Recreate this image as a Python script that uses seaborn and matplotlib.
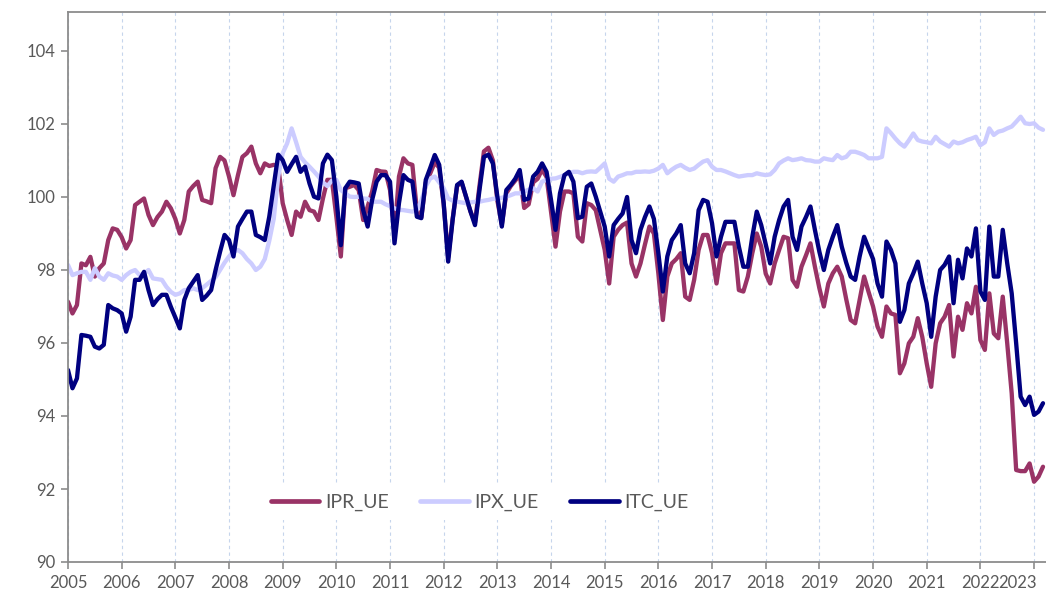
import numpy as np
import pandas as pd
import matplotlib
matplotlib.use("Agg")
import matplotlib.pyplot as plt
import matplotlib.transforms as mtransforms
import seaborn as sns

# ---------------- data (monthly, Jan 2005 - Mar 2023) ----------------
start_year = 2005
series_names = ["IPR_UE", "IPX_UE", "ITC_UE"]

ipr_ue = [
    97.13, 96.81, 97.04, 98.18, 98.13, 98.36, 97.82, 98.05, 98.18, 98.82, 99.14, 99.10,   # 2005
    98.90, 98.59, 98.82, 99.78, 99.87, 99.96, 99.51, 99.23, 99.45, 99.60, 99.87, 99.69,   # 2006
    99.40, 99.00, 99.37, 100.15, 100.30, 100.42, 99.92, 99.88, 99.83, 100.79, 101.10, 101.00,  # 2007
    100.56, 100.05, 100.60, 101.10, 101.20, 101.38, 100.92, 100.65, 100.92, 100.85, 100.88, 100.85,  # 2008
    99.83, 99.37, 98.96, 99.60, 99.46, 99.87, 99.64, 99.60, 99.37, 99.96, 100.47, 100.47,  # 2009
    99.46, 98.37, 100.24, 100.28, 100.33, 100.19, 99.37, 99.74, 100.15, 100.74, 100.70, 100.69,  # 2010
    100.19, 99.00, 100.56, 101.06, 100.92, 100.88, 99.64, 99.45, 100.40, 100.65, 100.95, 100.80,  # 2011
    99.80, 98.35, 99.40, 100.30, 100.40, 100.00, 99.60, 99.30, 100.30, 101.25, 101.35, 101.00,  # 2012
    99.90, 99.25, 100.10, 100.30, 100.45, 100.60, 99.70, 99.80, 100.40, 100.50, 100.75, 100.55,  # 2013
    99.60, 98.64, 99.60, 100.15, 100.15, 100.10, 98.91, 98.78, 99.83, 99.78, 99.64, 99.10,  # 2014
    98.55, 97.63, 98.91, 99.10, 99.23, 99.30, 98.18, 97.82, 98.18, 98.70, 99.19, 99.00,  # 2015
    97.90, 96.63, 97.82, 98.18, 98.30, 98.46, 97.27, 97.18, 97.73, 98.55, 98.96, 98.96,  # 2016
    98.46, 97.63, 98.46, 98.73, 98.73, 98.73, 97.45, 97.41, 97.82, 98.46, 99.00, 98.64,  # 2017
    97.90, 97.63, 98.18, 98.55, 98.91, 98.87, 97.73, 97.54, 98.09, 98.40, 98.73, 98.09,  # 2018
    97.50, 97.00, 97.63, 97.91, 98.09, 97.82, 97.20, 96.63, 96.54, 97.18, 97.82, 97.40,  # 2019
    97.00, 96.45, 96.17, 97.00, 96.81, 96.77, 95.17, 95.44, 95.99, 96.17, 96.68, 96.17,  # 2020
    95.44, 94.80, 95.99, 96.54, 96.72, 97.04, 95.63, 96.72, 96.36, 97.09, 96.81, 97.54,  # 2021
    96.08, 95.81, 97.36, 96.26, 96.13, 97.27, 95.99, 94.62, 92.52, 92.49, 92.49, 92.70,  # 2022
    92.20, 92.34, 92.61,                                                                  # 2023
]

ipx_ue = [
    98.14, 97.86, 97.91, 97.95, 97.95, 97.73, 98.05, 97.82, 97.73, 97.91, 97.85, 97.82,   # 2005
    97.73, 97.86, 97.95, 98.00, 97.86, 97.90, 98.00, 97.77, 97.75, 97.73, 97.54, 97.40,   # 2006
    97.32, 97.36, 97.45, 97.45, 97.50, 97.45, 97.50, 97.60, 97.70, 97.80, 98.00, 98.20,   # 2007
    98.37, 98.50, 98.55, 98.46, 98.30, 98.18, 98.00, 98.09, 98.30, 98.80, 99.40, 100.56,  # 2008
    101.20, 101.47, 101.88, 101.50, 101.10, 100.95, 100.83, 100.70, 100.56, 100.40, 100.30, 100.45,  # 2009
    100.47, 100.19, 100.10, 100.01, 100.00, 100.01, 99.96, 99.95, 99.87, 99.87, 99.87, 99.80,  # 2010
    99.75, 99.69, 99.65, 99.64, 99.62, 99.60, 99.64, 99.90, 100.30, 100.51, 100.56, 100.40,  # 2011
    100.24, 99.96, 99.90, 99.87, 99.85, 99.83, 99.85, 99.87, 99.87, 99.90, 99.92, 99.95,  # 2012
    99.96, 99.98, 100.01, 100.05, 100.10, 100.10, 100.15, 100.20, 100.24, 100.15, 100.42, 100.47,  # 2013
    100.50, 100.51, 100.55, 100.60, 100.65, 100.69, 100.69, 100.65, 100.69, 100.70, 100.69, 100.80,  # 2014
    100.92, 100.50, 100.42, 100.56, 100.60, 100.65, 100.65, 100.69, 100.69, 100.70, 100.69, 100.72,  # 2015
    100.78, 100.88, 100.65, 100.75, 100.83, 100.88, 100.80, 100.74, 100.78, 100.88, 100.97, 101.01,  # 2016
    100.83, 100.74, 100.74, 100.70, 100.65, 100.60, 100.56, 100.58, 100.60, 100.60, 100.65, 100.62,  # 2017
    100.60, 100.62, 100.74, 100.92, 101.00, 101.06, 101.01, 101.03, 101.06, 101.01, 101.00, 100.97,  # 2018
    100.97, 101.06, 101.03, 101.01, 101.15, 101.06, 101.10, 101.24, 101.24, 101.20, 101.15, 101.06,  # 2019
    101.06, 101.06, 101.10, 101.88, 101.75, 101.60, 101.47, 101.38, 101.55, 101.74, 101.56, 101.52,  # 2020
    101.50, 101.47, 101.65, 101.52, 101.45, 101.38, 101.52, 101.47, 101.50, 101.56, 101.60, 101.65,  # 2021
    101.42, 101.50, 101.88, 101.70, 101.79, 101.82, 101.88, 101.93, 102.06, 102.20, 102.02, 102.00,  # 2022
    102.02, 101.90, 101.84,                                                                 # 2023
]

itc_ue = [
    95.26, 94.76, 95.03, 96.22, 96.20, 96.17, 95.90, 95.85, 95.95, 97.04, 96.95, 96.90,   # 2005
    96.81, 96.31, 96.72, 97.73, 97.73, 97.95, 97.45, 97.04, 97.20, 97.32, 97.32, 96.99,   # 2006
    96.70, 96.40, 97.18, 97.50, 97.68, 97.86, 97.18, 97.30, 97.45, 98.00, 98.50, 98.96,   # 2007
    98.82, 98.37, 99.19, 99.40, 99.60, 99.60, 98.96, 98.90, 98.82, 99.46, 100.30, 101.16,  # 2008
    101.01, 100.69, 100.90, 101.10, 100.69, 100.83, 100.37, 100.01, 99.96, 100.92, 101.16, 101.01,  # 2009
    100.01, 98.68, 100.24, 100.42, 100.40, 100.37, 99.64, 99.19, 99.92, 100.42, 100.60, 100.60,  # 2010
    100.42, 98.73, 99.83, 100.60, 100.47, 100.42, 99.46, 99.42, 100.47, 100.80, 101.15, 100.88,  # 2011
    99.83, 98.23, 99.37, 100.33, 100.42, 100.01, 99.60, 99.23, 100.19, 101.10, 101.16, 100.92,  # 2012
    100.01, 99.19, 100.19, 100.33, 100.50, 100.74, 99.92, 99.96, 100.56, 100.69, 100.92, 100.69,  # 2013
    99.92, 99.10, 100.10, 100.60, 100.69, 100.42, 99.42, 99.46, 100.28, 100.37, 100.01, 99.60,  # 2014
    99.19, 98.37, 99.23, 99.40, 99.55, 100.00, 98.82, 98.46, 99.10, 99.45, 99.74, 99.40,  # 2015
    98.46, 97.41, 98.37, 98.82, 99.00, 99.23, 98.18, 97.91, 98.46, 99.64, 99.92, 99.87,  # 2016
    99.28, 98.37, 98.91, 99.32, 99.32, 99.32, 98.64, 98.09, 98.09, 98.91, 99.60, 99.23,  # 2017
    98.70, 98.18, 98.91, 99.37, 99.74, 99.92, 98.91, 98.55, 99.19, 99.45, 99.74, 99.10,  # 2018
    98.50, 98.00, 98.55, 98.91, 99.23, 98.64, 98.20, 97.82, 97.73, 98.37, 98.91, 98.60,  # 2019
    98.30, 97.63, 97.27, 98.78, 98.55, 98.18, 96.58, 96.90, 97.63, 97.91, 98.23, 97.63,  # 2020
    97.09, 96.17, 97.27, 98.00, 98.14, 98.37, 97.09, 98.28, 97.77, 98.59, 98.37, 99.14,  # 2021
    97.41, 97.18, 99.19, 97.82, 97.82, 99.10, 98.18, 97.36, 95.99, 94.53, 94.30, 94.53,  # 2022
    94.03, 94.12, 94.35,                                                                  # 2023
]

year_ticks = list(range(2005, 2024))
year_labels = [str(y) for y in year_ticks]
y_ticks = [90, 92, 94, 96, 98, 100, 102, 104]

colors = {"IPR_UE": "#993366", "IPX_UE": "#CCCCFF", "ITC_UE": "#000080"}

# ---------------- frame ----------------
n = len(ipr_ue)
t = start_year + np.arange(n) / 12.0
df = pd.DataFrame({
    "t": np.concatenate([t, t, t]),
    "value": np.array(ipr_ue + ipx_ue + itc_ue, dtype=float),
    "series": np.repeat(series_names, n),
})

sns.set_theme(style="white")
plt.rcParams["font.family"] = ["Lato", "DejaVu Sans"]

W, H = 1046, 598
fig = plt.figure(figsize=(W / 100, H / 100), dpi=100)
left, right, top, bottom = 68, 1046, 12, 562
ax = fig.add_axes([left / W, 1 - bottom / H, (right - left) / W, (bottom - top) / H])

sns.lineplot(data=df, x="t", y="value", hue="series", hue_order=series_names,
             palette=colors, linewidth=3.1, estimator=None, sort=False, ax=ax)
for ln in ax.get_lines():
    ln.set_solid_joinstyle("round")
    ln.set_solid_capstyle("round")

ax.set_xlim(2005.0, 2005.0 + (right - left) / 53.67)
ax.set_ylim(90, 90 + (bottom - top) / 36.5)

ax.set_xticks(year_ticks)
ax.set_xticklabels(year_labels)
ax.set_yticks(y_ticks)
ax.set_yticklabels([str(v) for v in y_ticks])

ax.set_xlabel("")
ax.set_ylabel("")

spine_c = "#8c8c8c"
for s in ["left", "bottom", "top"]:
    ax.spines[s].set_visible(True)
    ax.spines[s].set_color(spine_c)
    ax.spines[s].set_linewidth(1.3)
ax.spines["right"].set_visible(False)

ax.tick_params(axis="both", which="major", bottom=True, left=True, direction="out",
               length=5, width=1.2, color=spine_c, labelcolor="#595959",
               labelsize=12, pad=4)

# last year label kept inside the figure (right-aligned, nudged so it just touches 2022)
last_lab = ax.get_xticklabels()[-1]
last_lab.set_horizontalalignment("right")
last_lab.set_transform(last_lab.get_transform() +
                       mtransforms.ScaledTranslation(3 / 100, 0, fig.dpi_scale_trans))

ax.grid(axis="x", color="#c6d5ec", linestyle=(0, (3, 3)), linewidth=0.8)
ax.grid(axis="y", visible=False)
ax.set_axisbelow(True)

handles, labels = ax.get_legend_handles_labels()
leg = ax.legend(handles, labels, loc="center", bbox_to_anchor=(0.421, 0.109), ncol=3,
                frameon=True, facecolor="white", edgecolor="none", framealpha=1,
                fontsize=14, handlelength=2.5, handletextpad=0.3, columnspacing=1.6,
                borderpad=0.5)
for txt in leg.get_texts():
    txt.set_color("#595959")
for line in leg.get_lines():
    line.set_linewidth(3.4)
    line.set_solid_capstyle("round")

fig.savefig("out.png", dpi=100)
